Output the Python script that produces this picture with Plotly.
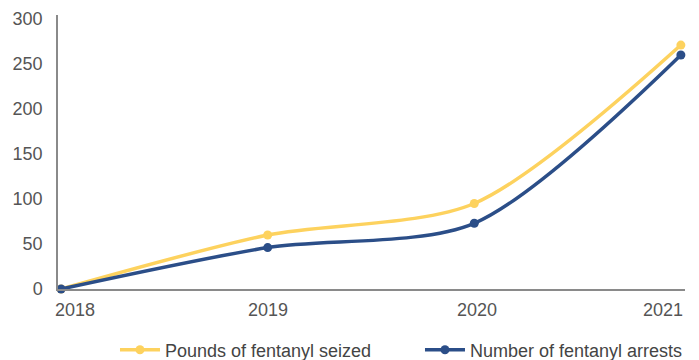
import plotly.graph_objects as go

years = [2018, 2019, 2020, 2021]
tick_labels = ["2018", "2019", "2020", "2021"]
pounds_seized = [0, 60, 95, 271]
arrests = [0, 46, 73, 260]

yellow = "#FDD25E"
blue = "#2B4E88"
label_shift = [14, 0, 3, -18]

fig = go.Figure()
fig.add_trace(go.Scatter(
    x=years, y=pounds_seized, name="Pounds of fentanyl seized",
    mode="lines+markers", line=dict(color=yellow, width=3.5, shape="spline", smoothing=0.8),
    marker=dict(color=yellow, size=9), cliponaxis=False))
fig.add_trace(go.Scatter(
    x=years, y=arrests, name="Number of fentanyl arrests",
    mode="lines+markers", line=dict(color=blue, width=3.5, shape="spline", smoothing=0.8),
    marker=dict(color=blue, size=9), cliponaxis=False))

for yr, txt, sh in zip(years, tick_labels, label_shift):
    fig.add_annotation(x=yr, y=0, xref="x", yref="paper", text=txt, showarrow=False,
                       xanchor="center", yanchor="top", xshift=sh, yshift=-9,
                       font=dict(size=18, color="#555555"))

fig.update_layout(
    width=699, height=360,
    margin=dict(l=58, r=14, t=15, b=71, autoexpand=False),
    paper_bgcolor="white", plot_bgcolor="white",
    font=dict(family="Liberation Sans, Arial, sans-serif", size=18, color="#555555"),
    showlegend=True,
    legend=dict(orientation="h", xref="container", yref="paper",
                x=0.1645, xanchor="left", y=-0.223, yanchor="middle",
                font=dict(size=18, color="#444444"), entrywidth=250, entrywidthmode="pixels",
                itemwidth=40),
    xaxis=dict(range=[2017.985, 2021.02], tickvals=years, showticklabels=False,
               showgrid=False, zeroline=False, showline=True, linecolor="#8a8a8a", linewidth=1.5,
               ticks=""),
    yaxis=dict(range=[0, 304.4], tickvals=[0, 50, 100, 150, 200, 250, 300],
               showgrid=False, zeroline=False, showline=True, linecolor="#8a8a8a", linewidth=1.5,
               ticks="", ticklabelstandoff=10),
)

fig.write_html("out.html")
